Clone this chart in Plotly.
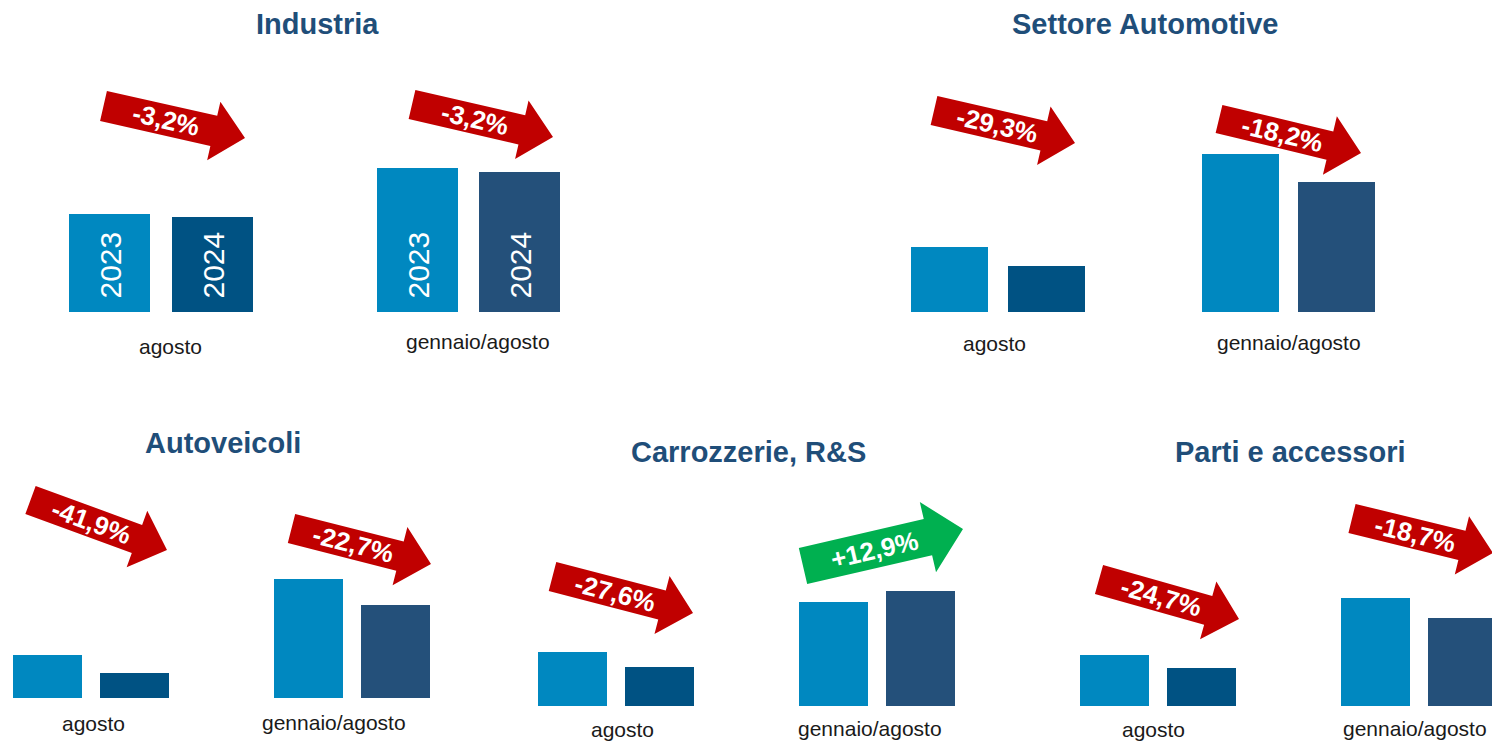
import math
import plotly.graph_objects as go

# ---------------- data ----------------
panels = ["Industria", "Settore Automotive", "Autoveicoli", "Carrozzerie, R&S", "Parti e accessori"]
periods = ["agosto", "gennaio/agosto"]
years = ["2023", "2024"]

# relative bar heights, [agosto, gennaio/agosto]
industria_2023 = [98, 144]
industria_2024 = [95, 140]
automotive_2023 = [65, 158]
automotive_2024 = [46, 130]
autoveicoli_2023 = [43, 119]
autoveicoli_2024 = [25, 93]
carrozzerie_2023 = [54, 104]
carrozzerie_2024 = [39, 115]
parti_2023 = [51, 108]
parti_2024 = [38, 88]

industria_var = ["-3,2%", "-3,2%"]
automotive_var = ["-29,3%", "-18,2%"]
autoveicoli_var = ["-41,9%", "-22,7%"]
carrozzerie_var = ["-27,6%", "+12,9%"]
parti_var = ["-24,7%", "-18,7%"]

values_2023 = [industria_2023, automotive_2023, autoveicoli_2023, carrozzerie_2023, parti_2023]
values_2024 = [industria_2024, automotive_2024, autoveicoli_2024, carrozzerie_2024, parti_2024]
variations = [industria_var, automotive_var, autoveicoli_var, carrozzerie_var, parti_var]

# ---------------- layout constants (pixels) ----------------
W, H = 1492, 741
FONT = "Liberation Sans, Arial, sans-serif"
C2023 = "#0088C0"
C2024 = ["#005283", "#24507A"]
RED, GREEN = "#C00000", "#00B050"
TITLE_C = "#1F4E79"

# per panel, per period: (first bar left, bar width, gap, baseline)
geom = [
    [(69, 81, 22, 312), (377, 81, 21, 312)],
    [(911, 77, 20, 312), (1202, 77, 19, 312)],
    [(13, 69, 18, 698), (274, 69, 18, 698)],
    [(538, 69, 18, 706), (799, 69, 18, 706)],
    [(1080, 69, 18, 706), (1341, 69, 18, 706)],
]
title_pos = [(317, 24), (1145, 24), (223, 443), (748, 452), (1290, 452)]
label_pos = [
    [(170, 346), (478, 341)],
    [(995, 344), (1289, 342)],
    [(93, 723), (334, 722)],
    [(622, 729), (870, 728)],
    [(1153, 729), (1415, 728)],
]
# arrow: (start-mid x, y, tip x, y, shaft width, head width, head length)
arrows = [
    [(103.5, 106, 245, 138, 31, 60, 32), (412, 104.5, 553, 137, 30, 60, 32)],
    [(934, 110.5, 1075, 143, 30, 60, 32), (1219, 119, 1361, 153, 29, 60, 32)],
    [(30.5, 500, 167, 550, 30, 60, 32), (291.5, 528.5, 431, 564, 30, 60, 32)],
    [(552.5, 576.5, 693, 613, 30, 60, 32), (803, 566, 963, 529, 37, 72, 36)],
    [(1099, 579.5, 1239, 619, 30, 60, 32), (1352, 518.5, 1493, 553, 30, 60, 32)],
]
YSPAN = 200  # pixels of each y domain == y range units


def px(x):
    return x / W


def py(y):
    return 1 - y / H


fig = go.Figure()
layout = dict(
    width=W, height=H, margin=dict(l=0, r=0, t=0, b=0),
    paper_bgcolor="white", plot_bgcolor="white", showlegend=False,
    font=dict(family=FONT),
)
annotations = []
shapes = []

k = 0
for i, panel in enumerate(panels):
    for j, period in enumerate(periods):
        k += 1
        left, bw, gap, base = geom[i][j]
        slot = bw + gap
        d0 = left - gap / 2
        d1 = min(d0 + 2 * slot, W)
        xr_end = -0.5 + (d1 - d0) / slot
        xname = "x" if k == 1 else f"x{k}"
        yname = "y" if k == 1 else f"y{k}"
        xkey = "xaxis" if k == 1 else f"xaxis{k}"
        ykey = "yaxis" if k == 1 else f"yaxis{k}"
        layout[xkey] = dict(domain=[px(d0), px(d1)], anchor=yname, type="category",
                            range=[-0.5, xr_end], visible=False, fixedrange=True)
        layout[ykey] = dict(domain=[py(base), py(base - YSPAN)], anchor=xname,
                            range=[0, YSPAN], visible=False, fixedrange=True)
        fig.add_trace(go.Bar(
            x=years, y=[values_2023[i][j], values_2024[i][j]],
            marker=dict(color=[C2023, C2024[j]], line=dict(width=0)),
            width=bw / slot, xaxis=xname, yaxis=yname, hoverinfo="skip",
        ))
        if i == 0:
            for idx, yr in enumerate(years):
                annotations.append(dict(
                    x=idx, y=0, xref=xname, yref=yname, text=yr, showarrow=False,
                    textangle=-90, xanchor="center", yanchor="middle", yshift=47,
                    font=dict(size=30, color="white", family=FONT)))
        # period label
        lx, ly = label_pos[i][j]
        annotations.append(dict(
            x=px(lx), y=py(ly), xref="paper", yref="paper", text=period,
            showarrow=False, xanchor="center", yanchor="middle",
            font=dict(size=21, color="#1A1A1A", family=FONT)))
        # arrow
        sx, sy, tx, ty, sw, hw, hl = arrows[i][j]
        var = variations[i][j]
        col = GREEN if var.startswith("+") else RED
        L = math.hypot(tx - sx, ty - sy)
        ux, uy = (tx - sx) / L, (ty - sy) / L
        nx, ny = -uy, ux
        neck_x, neck_y = sx + ux * (L - hl), sy + uy * (L - hl)
        pts = [
            (sx + nx * sw / 2, sy + ny * sw / 2),
            (neck_x + nx * sw / 2, neck_y + ny * sw / 2),
            (neck_x + nx * hw / 2, neck_y + ny * hw / 2),
            (tx, ty),
            (neck_x - nx * hw / 2, neck_y - ny * hw / 2),
            (neck_x - nx * sw / 2, neck_y - ny * sw / 2),
            (sx - nx * sw / 2, sy - ny * sw / 2),
        ]
        path = "M " + " L ".join(f"{px(a):.5f},{py(b):.5f}" for a, b in pts) + " Z"
        shapes.append(dict(type="path", path=path, xref="paper", yref="paper",
                           fillcolor=col, line=dict(width=0), layer="above"))
        t = (L - hl) * 0.57
        cx, cy = sx + ux * t, sy + uy * t
        ang = math.degrees(math.atan2(ty - sy, tx - sx))
        annotations.append(dict(
            x=px(cx), y=py(cy), xref="paper", yref="paper", text=f"<b>{var}</b>",
            showarrow=False, textangle=ang, xanchor="center", yanchor="middle",
            font=dict(size=26, color="white", family=FONT)))
    # title
    tx_, ty_ = title_pos[i]
    annotations.append(dict(
        x=px(tx_), y=py(ty_), xref="paper", yref="paper", text=f"<b>{panel}</b>",
        showarrow=False, xanchor="center", yanchor="middle",
        font=dict(size=29, color=TITLE_C, family=FONT)))

layout["annotations"] = annotations
layout["shapes"] = shapes
fig.update_layout(**layout)

fig.write_html("out.html", config={"displayModeBar": False, "staticPlot": True},
               post_script="document.body.style.margin='0';document.body.style.overflow='hidden';")
